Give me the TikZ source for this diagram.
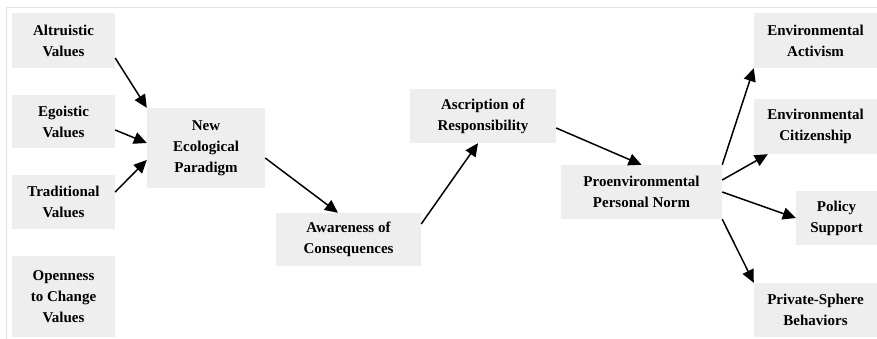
\documentclass[tikz,border=0pt]{standalone}
\usepackage{fontspec}
\setmainfont{Liberation Serif}
\usetikzlibrary{arrows.meta}
\definecolor{boxgray}{RGB}{238,238,238}
\definecolor{framegray}{RGB}{225,225,225}
\begin{document}
\begin{tikzpicture}[x=1pt,y=-1pt]
  % Parameters
  \def\lineskipamt{21pt}

  % Styles
  \tikzset{
    factor/.style={fill=boxgray, align=center, inner sep=0pt,
      font=\fontsize{15}{\lineskipamt}\selectfont\bfseries},
    link/.style={line width=1.5pt, -{Triangle[length=13pt,width=12pt]}}
  }

  \useasboundingbox (0,0) rectangle (877,339);
  % Faint frame
  \draw[framegray, line width=0.8pt] (6,345) -- (6,7) -- (885,7);

  % Value orientations
  \node[factor, minimum width=103pt, minimum height=55pt] (alt) at (63.5,40.5) {Altruistic\\Values};
  \node[factor, minimum width=103pt, minimum height=53pt] (ego) at (63.5,121.5) {Egoistic\\Values};
  \node[factor, minimum width=103pt, minimum height=54pt] (trad) at (63.5,202) {Traditional\\Values};
  \node[factor, minimum width=103pt, minimum height=81pt] (open) at (63.5,296.5) {Openness\\to Change\\Values};

  % Chain
  \node[factor, minimum width=118pt, minimum height=80pt] (nep) at (206,148) {New\\Ecological\\Paradigm};
  \node[factor, minimum width=145pt, minimum height=53pt] (awc) at (348.5,239.5) {Awareness of\\Consequences};
  \node[factor, minimum width=146pt, minimum height=54pt] (ar) at (483,116) {Ascription of\\Responsibility};
  \node[factor, minimum width=161pt, minimum height=54pt] (pn) at (641.5,192) {Proenvironmental\\Personal Norm};

  % Behaviours
  \node[factor, minimum width=123pt, minimum height=55pt] (act) at (815.5,40.5) {Environmental\\Activism};
  \node[factor, minimum width=123pt, minimum height=55pt] (cit) at (815.5,126.5) {Environmental\\Citizenship};
  \node[factor, minimum width=81pt, minimum height=54pt] (pol) at (836.5,218) {Policy\\Support};
  \node[factor, minimum width=123pt, minimum height=54pt] (pri) at (815.5,310) {Private-Sphere\\Behaviors};

  % Arrows into the paradigm
  \draw[link] ([yshift=-17.5pt]alt.east) -- (nep.north west);
  \draw[link] ([yshift=-8.5pt]ego.east) -- ([yshift=5pt]nep.west);
  \draw[link] ([yshift=10pt]trad.east) -- ([yshift=-12pt]nep.west);

  % Arrows along the chain
  \draw[link] ([yshift=-10pt]nep.east) -- ([xshift=-10.5pt]awc.north);
  \draw[link] ([yshift=15.5pt]awc.east) -- ([xshift=-5pt]ar.south);
  \draw[link] ([yshift=-12pt]ar.east) -- (pn.north);

  % Arrows out of the norm
  \draw[link] (pn.north east) -- (act.south west);
  \draw[link] ([yshift=12pt]pn.east) -- ([xshift=14pt]cit.south west);
  \draw[link] (pn.east) -- (pol.west);
  \draw[link] (pn.south east) -- (pri.north west);

\end{tikzpicture}
\end{document}
